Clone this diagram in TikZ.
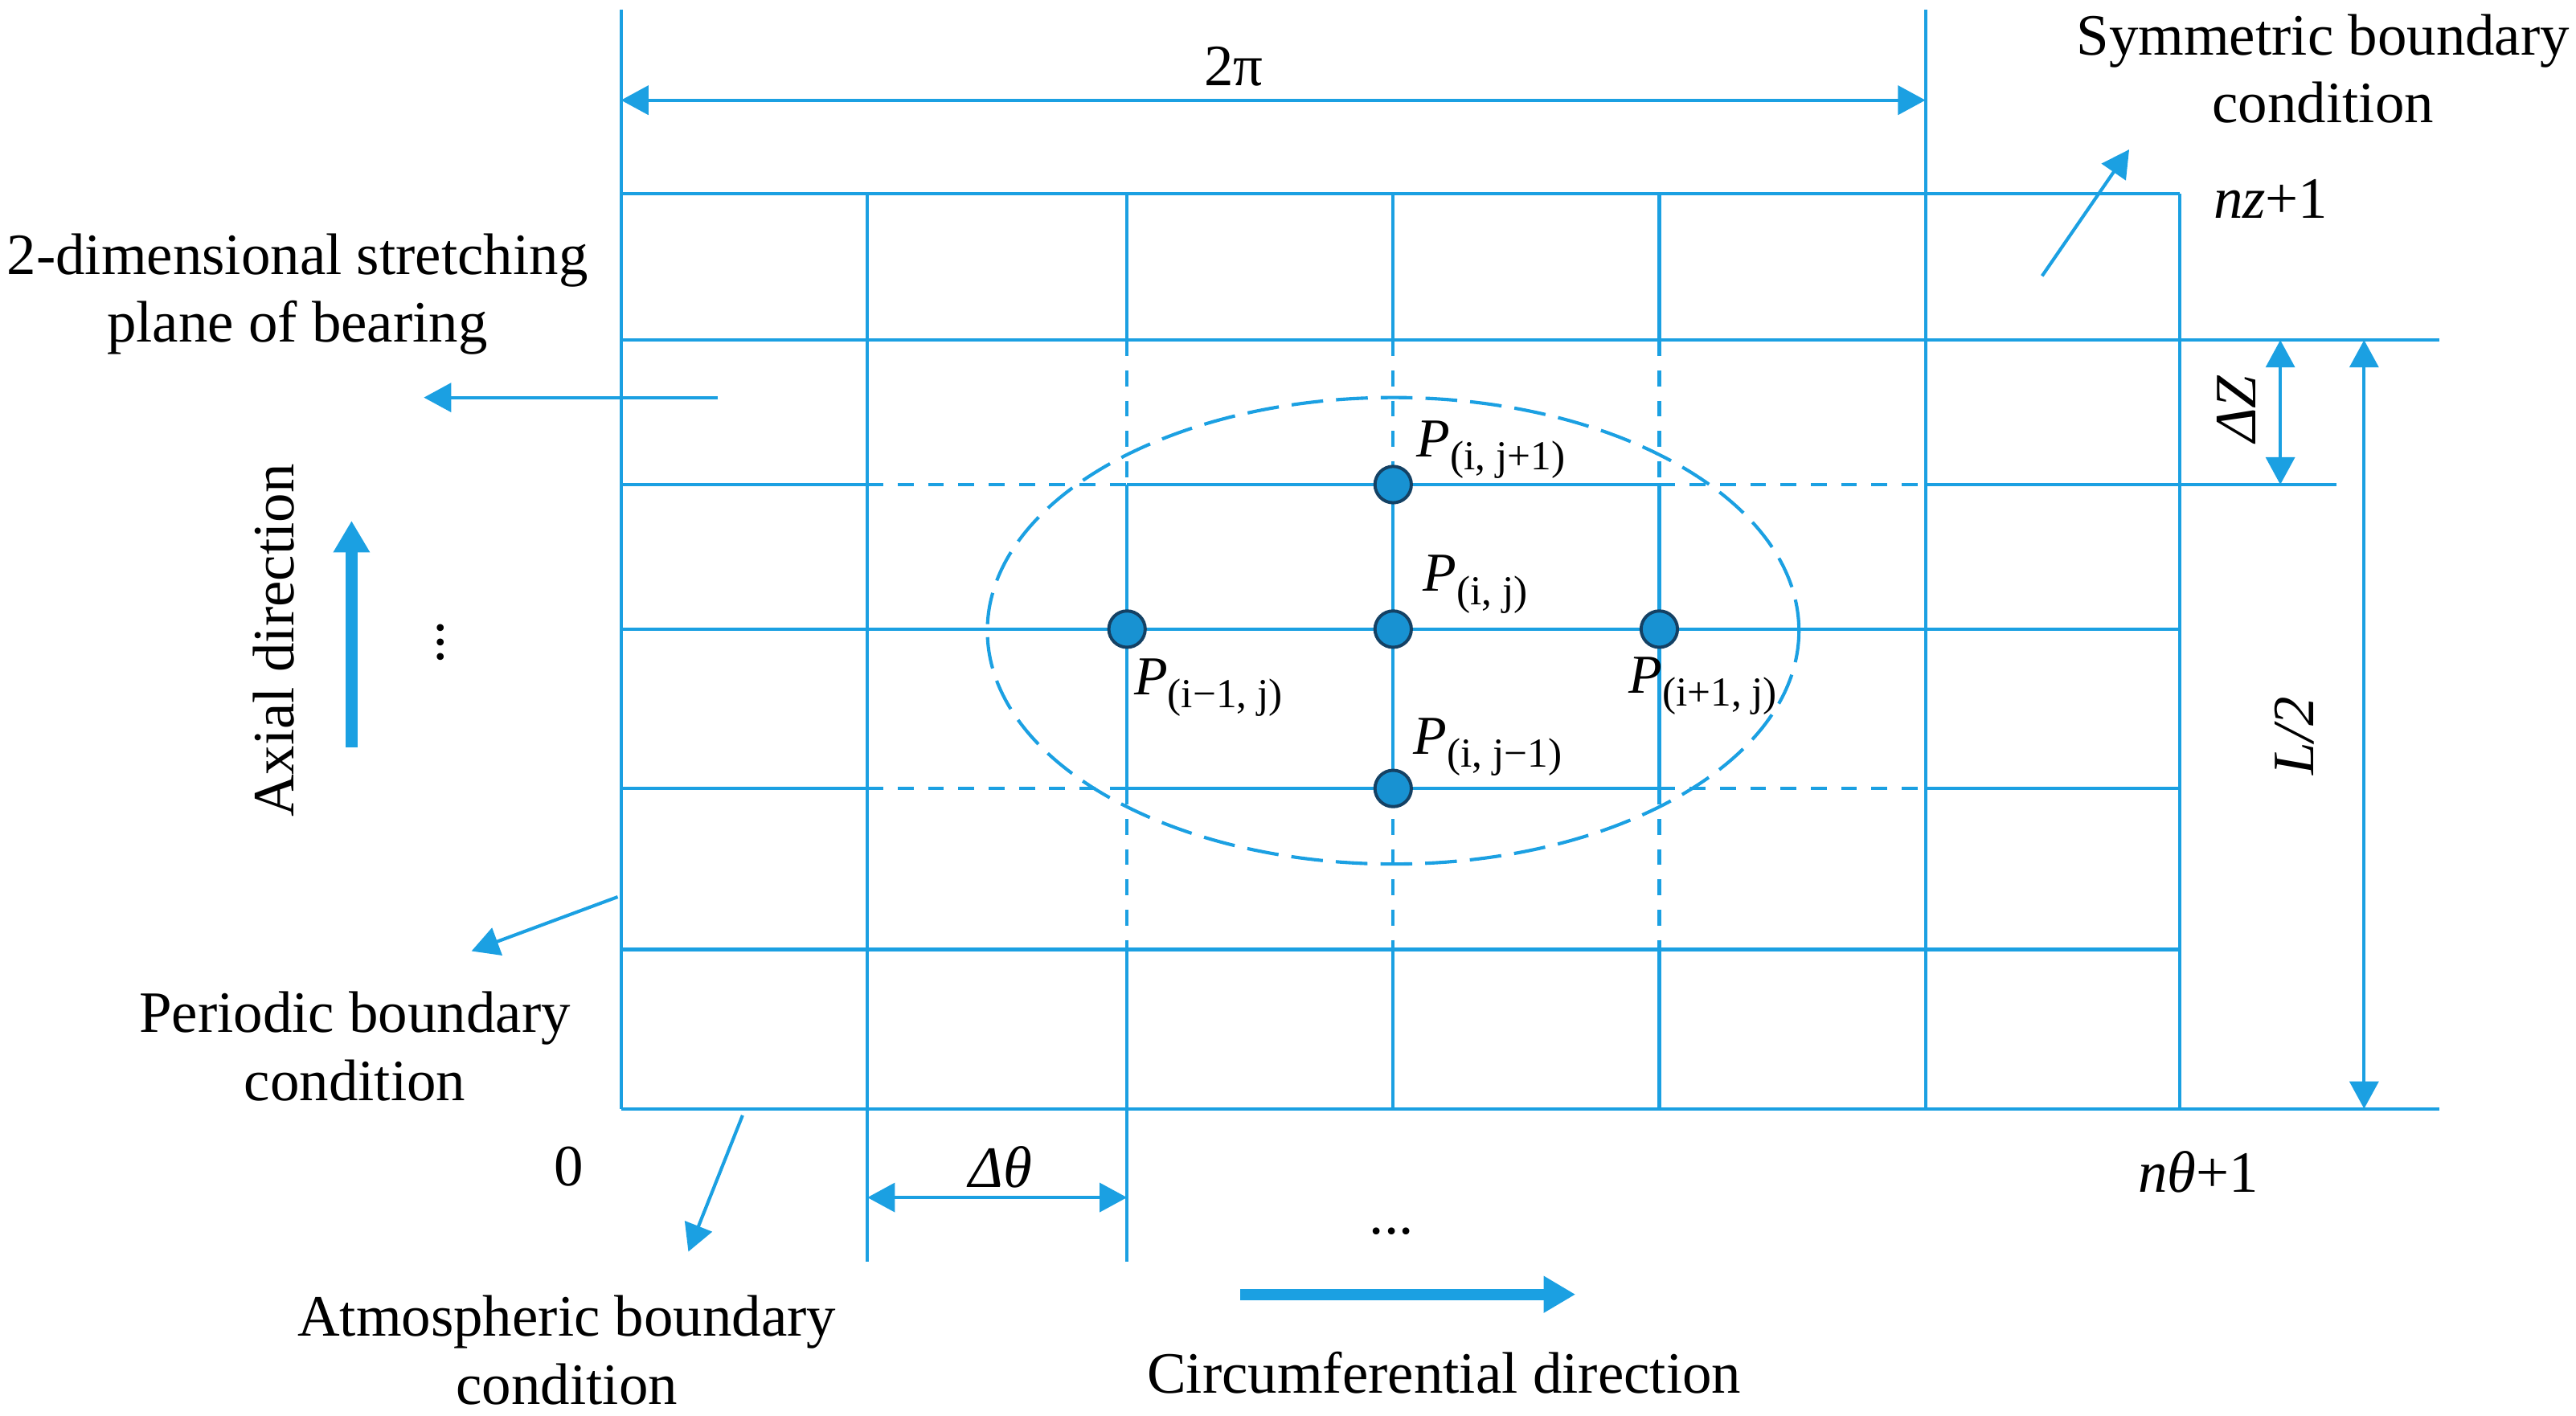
\documentclass[tikz,border=0pt]{standalone}
\usepackage{fontspec}
\setmainfont{Liberation Serif}
\usetikzlibrary{arrows.meta}
\definecolor{gridblue}{RGB}{27,160,226}
\definecolor{dotfill}{RGB}{24,146,210}
\definecolor{dotedge}{RGB}{20,65,100}
\newcommand{\Plab}[1]{\fontsize{19pt}{19pt}\selectfont\textit{P}\raisebox{-4.5pt}{\fontsize{14.3pt}{14.3pt}\selectfont #1}}
\begin{document}
\begin{tikzpicture}[x=0.02cm,y=-0.02cm,
  gl/.style={draw=gridblue,line width=1.15pt},
  gd/.style={draw=gridblue,line width=1.15pt,dash pattern=on 5.5pt off 5pt},
  ell/.style={draw=gridblue,line width=1.15pt,dash pattern=on 11pt off 4.5pt},
  tip/.style={-{Triangle[length=9.5pt,width=10pt]}},
  dimarr/.style={{Triangle[length=9.5pt,width=10pt]}-{Triangle[length=9.5pt,width=10pt]}},
  bigarr/.style={draw=gridblue,line width=4pt,-{Triangle[length=11pt,width=12pt]}},
  lbl/.style={font=\fontsize{20.3pt}{23.5pt}\selectfont, align=center, inner sep=0pt},
  plbl/.style={inner sep=0pt,anchor=base west},
  pt/.style={circle,fill=dotfill,draw=dotedge,line width=1.1pt,minimum size=12.6pt,inner sep=0pt},
]
\useasboundingbox (0,0) rectangle (1568,862);

% ---- vertical grid lines
\draw[gl] (378,6) -- (378,675);
\draw[gl] (528,118) -- (528,768);
\draw[gl] (1172,6) -- (1172,675);
\draw[gl] (1327,118) -- (1327,675);
\foreach \x/\e in {686/768,848/675,1010/675}{
  \draw[gl] (\x,118) -- (\x,207);
  \draw[gd] (\x,207) -- (\x,295);
  \draw[gl] (\x,295) -- (\x,480);
  \draw[gd] (\x,480) -- (\x,578);
  \draw[gl] (\x,578) -- (\x,\e);
}
% ---- horizontal grid lines
\draw[gl] (378,118) -- (1327,118);
\draw[gl] (378,207) -- (1485,207);
\draw[gl] (378,383) -- (1327,383);
\draw[gl] (378,578) -- (1327,578);
\draw[gl] (378,675) -- (1485,675);
\foreach \y/\e in {295/1422,480/1327}{
  \draw[gl] (378,\y) -- (528,\y);
  \draw[gd] (528,\y) -- (686,\y);
  \draw[gl] (686,\y) -- (1010,\y);
  \draw[gd] (1010,\y) -- (1172,\y);
  \draw[gl] (1172,\y) -- (\e,\y);
}

% ---- dashed ellipse
\draw[ell] (848,384) ellipse [x radius=247, y radius=142];

% ---- stencil points
\node[pt] (pim1) at (686,383) {};
\node[pt] (pij)  at (848,383) {};
\node[pt] (pip1) at (1010,383) {};
\node[pt] (pjp1) at (848,295) {};
\node[pt] (pjm1) at (848,480) {};

\node[plbl] (lpjp1) at (862,278) {\Plab{(i, j+1)}};
\node[plbl] (lpij)  at (866,360) {\Plab{(i, j)}};
\node[plbl] (lpjm1) at (860,459) {\Plab{(i, j−1)}};
\node[plbl] (lpip1) at (991,422) {\Plab{(i+1, j)}};
\node[plbl] (lpim1) at (690,423) {\Plab{(i−1, j)}};

% ---- dimension arrows
\coordinate (tpL) at (378,61);  \coordinate (tpR) at (1172,61);
\draw[gl,dimarr] (tpL) -- (tpR);
\node[lbl,anchor=base] (twopi) at (751,52) {2π};

\coordinate (dzT) at (1388,207); \coordinate (dzB) at (1388,295);
\draw[gl,dimarr] (dzT) -- (dzB);
\node[lbl,rotate=90,anchor=base] (dz) at (1373,249) {\textit{ΔZ}};

\coordinate (lT) at (1439,207); \coordinate (lB) at (1439,675);
\draw[gl,dimarr] (lT) -- (lB);
\node[lbl,rotate=90,anchor=base] (l2) at (1408,448) {\textit{L/2}};

\coordinate (dtL) at (528,729); \coordinate (dtR) at (686,729);
\draw[gl,dimarr] (dtL) -- (dtR);
\node[lbl,anchor=base] (dt) at (609,723) {\textit{Δθ}};

% ---- pointer arrows
\coordinate (symT) at (1243,168); \coordinate (symH) at (1296,91);
\draw[gl,tip] (symT) -- (symH);
\coordinate (plT) at (437,242); \coordinate (plH) at (258,242);
\draw[gl,tip] (plT) -- (plH);
\coordinate (peT) at (376,546); \coordinate (peH) at (287,579);
\draw[gl,tip] (peT) -- (peH);
\coordinate (atT) at (452,679); \coordinate (atH) at (419,762);
\draw[gl,tip] (atT) -- (atH);

% ---- direction arrows
\coordinate (axT) at (214,455); \coordinate (axH) at (214,317);
\draw[bigarr] (axT) -- (axH);
\coordinate (ciT) at (755,788); \coordinate (ciH) at (959,788);
\draw[bigarr] (ciT) -- (ciH);

% ---- texts
\node[lbl] (sym) at (1414,42) {Symmetric boundary\\condition};
\node[lbl] (plane) at (181,179) {2-dimensional stretching\\plane of bearing};
\node[lbl] (per) at (216,637) {Periodic boundary\\condition};
\node[lbl] (atm) at (345,822) {Atmospheric boundary\\condition};
\node[lbl,anchor=base] (circ) at (879,848) {Circumferential direction};
\node[lbl,rotate=90,anchor=base] (axial) at (179,390) {Axial direction};
\node[lbl,anchor=base] (zero) at (346,722) {0};
\node[lbl,anchor=base west] (nz) at (1347,133) {\textit{nz}+1};
\node[lbl,anchor=base west] (nt) at (1301,726) {\textit{nθ}+1};
\node[lbl,anchor=base] (hdots) at (847,751) {...};
\node[lbl,rotate=90,anchor=base] (vdots) at (270,391) {...};
\end{tikzpicture}
\end{document}
